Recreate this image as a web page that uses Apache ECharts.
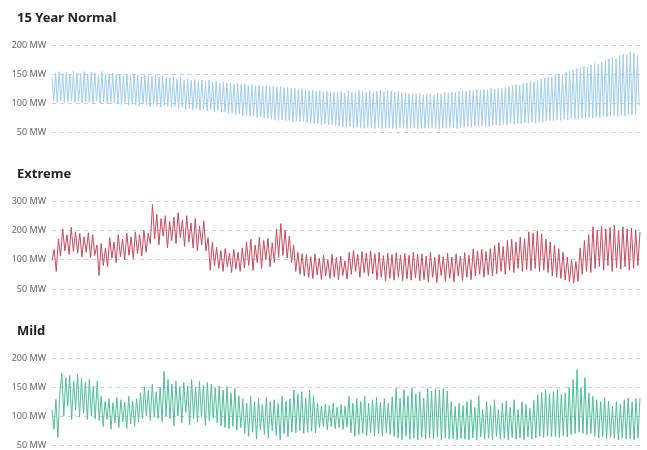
<!DOCTYPE html>
<html>
<head>
<meta charset="utf-8">
<script src="https://cdn.jsdelivr.net/npm/echarts@6/dist/echarts.min.js"></script>
<style>
html,body{margin:0;padding:0;background:#fff;}
#chart{width:647px;height:450px;}
</style>
</head>
<body>
<div id="chart"></div>
<script>
// ---- Data (MW) ----
const panelTitles = ["15 Year Normal", "Extreme", "Mild"];

const normTicks = [50, 100, 150, 200];
const extremeTicks = [50, 100, 200, 300];
const mildTicks = [50, 100, 150, 200];

const normHigh = [
  145,152,154,151,153,150,155,152,151,154,150,153,152,149,154,151,150,152,
  148,150,147,149,146,150,148,145,149,147,146,148,145,147,144,
  143,145,141,144,140,142,139,141,138,140,137,139,136,138,135,
  136,134,135,133,134,132,133,131,132,130,131,129,130,
  128,129,127,128,126,127,125,126,124,125,
  123,121,122,120,121,119,120,118,119,
  118,120,117,121,119,118,122,120,119,121,118,120,122,119,121,
  121,119,120,118,117,116,117,115,116,114,
  115,116,114,117,116,118,117,119,118,120,
  121,120,122,121,123,122,124,123,125,124,126,125,127,128,
  130,132,131,134,135,137,136,139,141,
  143,145,144,148,150,149,153,155,156,
  159,161,163,162,166,168,167,171,173,
  176,178,177,182,184,183,188,186,182
];
const normLow = [
  104,101,103,100,102,104,101,103,100,102,101,99,103,100,102,98,101,100,
  99,97,100,96,98,97,95,99,96,94,97,95,93,96,94,
  92,94,90,93,89,91,88,90,87,89,86,88,85,87,84,
  85,82,83,80,81,78,79,77,78,75,76,74,73,
  72,71,70,71,69,70,68,69,67,68,
  66,65,64,65,63,64,62,63,61,
  60,59,58,59,57,58,57,56,58,57,56,57,55,56,57,
  56,55,57,56,55,56,57,55,56,57,
  56,57,56,55,57,56,58,57,56,57,
  58,59,58,60,59,61,60,59,61,62,61,63,62,64,
  63,65,64,66,65,67,66,68,67,
  69,70,69,71,70,72,71,73,72,
  73,74,73,75,74,76,75,77,76,
  77,78,77,79,78,80,79,80,95
];
const normMid = [
  124,127,125,128,126,124,127,125,126,128,125,127,124,126,125,127,124,126,
  123,121,124,122,120,123,121,119,122,120,118,121,119,117,120,
  118,116,117,115,116,114,115,113,114,112,113,111,112,110,111,
  109,107,108,106,107,105,104,105,103,102,103,101,100,
  99,100,98,97,98,96,97,95,96,94,
  93,92,91,92,90,91,89,90,88
];

const extremeValues = [
  98,135,80,170,112,205,130,185,118,210,128,195,
  122,190,110,178,125,192,108,185,115,
  150,73,155,90,140,
  88,175,105,160,95,185,110,170,100,190,115,178,104,195,120,185,112,200,125,190,
  155,288,170,255,150,240,180,250,140,230,165,245,155,260,175,235,145,250,160,225,140,240,130,215,150,232,130,
  175,82,160,90,
  142,85,130,80,138,88,122,78,135,84,125,80,140,86,
  160,90,170,82,150,95,177,85,165,100,172,88,158,95,
  205,108,223,115,200,105,
  180,95,150,80,125,75,120,72,
  118,70,110,68,120,74,105,66,115,72,100,68,118,70,108,66,112,73,98,67,
  125,75,131,80,118,70,128,78,122,72,130,76,
  120,66,125,70,114,64,122,68,118,65,124,70,116,64,121,67,115,65,125,69,118,64,120,66,
  112,62,125,70,108,61,118,73,110,63,122,68,109,62,120,72,112,64,124,70,115,66,
  137,72,130,75,135,70,128,74,138,72,
  150,76,158,80,145,75,165,82,170,78,160,85,177,80,172,83,
  195,81,190,85,198,80,188,82,
  170,78,160,72,150,70,138,68,125,65,
  108,62,100,60,97,63,
  140,75,165,80,185,78,
  212,85,200,88,215,82,205,90,210,80,218,86,200,84,212,88,205,82,208,85,200,90,195
];

const mildValues = [
  111,77,129,63,140,
  174,100,166,117,170,94,160,110,172,98,165,105,
  158,94,163,100,151,95,160,92,
  134,82,125,94,130,77,123,88,132,80,128,90,124,78,134,86,126,82,130,90,
  140,95,150,100,145,92,155,98,142,96,150,
  90,177,100,
  163,95,155,83,160,100,151,88,158,106,152,85,163,95,150,90,160,98,153,84,158,92,155,96,148,88,152,83,
  145,80,151,78,140,82,148,76,135,80,
  130,70,122,65,134,72,125,60,130,76,120,68,132,62,125,74,128,66,122,59,134,70,126,64,130,72,
  145,71,138,75,142,70,131,72,145,74,135,71,
  122,80,117,82,120,76,118,82,122,78,115,80,120,77,117,81,
  134,71,122,65,130,68,125,70,134,66,122,71,128,65,132,69,124,66,130,71,122,68,133,65,
  148,62,131,59,145,65,135,60,148,62,138,59,142,63,131,60,
  148,62,143,60,147,64,145,59,148,62,143,60,
  125,60,117,59,122,61,118,60,125,59,
  128,62,115,59,135,64,111,60,125,62,118,59,128,65,112,60,122,61,126,59,115,63,128,60,111,62,124,59,120,64,113,60,127,62,
  137,65,140,63,145,66,138,64,142,65,145,63,137,66,140,64,
  150,68,163,70,180,72,148,70,166,68,140,70,
  134,65,128,62,125,64,132,60,126,63,
  117,61,125,59,120,62,128,60,131,61,124,59,130,62,131
];

// ---- Build series data ----
const normData = [];
for (let i = 0; i < normHigh.length; i++) {
  normData.push([i, normHigh[i]]);
  normData.push([i + 0.45, normLow[i]]);
  if (i < normMid.length) normData.push([i + 0.75, normMid[i]]);
}

// Extreme axis uses evenly spaced ticks at 50/100/200/300 (piecewise scale)
function toTickSpace(v, ticks) {
  for (let k = 0; k < ticks.length - 1; k++) {
    if (v <= ticks[k + 1] || k === ticks.length - 2) {
      return k + (v - ticks[k]) / (ticks[k + 1] - ticks[k]);
    }
  }
}
const extremeData = extremeValues.map((v, i) => [i, toTickSpace(v, extremeTicks)]);
const mildData = mildValues.map((v, i) => [i, v]);

const gridTops = [45, 201, 358];
const gridHeights = [87, 88, 87];
const titleTops = [7, 163, 320];
const colors = ["#9fcdf0", "#c94a5c", "#4fbf9a"];

const labelStyle = { color: "#666", fontSize: 9, fontFamily: "Noto Sans", margin: 6 };
const splitStyle = { show: true, lineStyle: { color: "#d0d0d0", type: [4, 4], width: 1 } };

const chart = echarts.init(document.getElementById("chart"), null, { renderer: "canvas" });
chart.setOption({
  animation: false,
  backgroundColor: "#fff",
  title: panelTitles.map((t, k) => ({
    text: t, left: 12, top: titleTops[k],
    textStyle: { fontSize: 13, fontWeight: "bold", color: "#222", fontFamily: "Noto Sans" }
  })),
  grid: gridTops.map((t, k) => ({ left: 52, right: 7, top: t, height: gridHeights[k] })),
  xAxis: [
    { gridIndex: 0, type: "value", min: 0, max: normHigh.length - 0.3, show: false },
    { gridIndex: 1, type: "value", min: 0, max: extremeValues.length - 1, show: false },
    { gridIndex: 2, type: "value", min: 0, max: mildValues.length - 1, show: false }
  ],
  yAxis: [
    { gridIndex: 0, type: "value", min: normTicks[0], max: normTicks[normTicks.length - 1], interval: 50,
      axisLine: { show: false }, axisTick: { show: false }, splitLine: splitStyle,
      axisLabel: Object.assign({ formatter: v => v + " MW" }, labelStyle) },
    { gridIndex: 1, type: "value", min: 0, max: extremeTicks.length - 1, interval: 1,
      axisLine: { show: false }, axisTick: { show: false }, splitLine: splitStyle,
      axisLabel: Object.assign({ formatter: v => extremeTicks[Math.round(v)] + " MW" }, labelStyle) },
    { gridIndex: 2, type: "value", min: mildTicks[0], max: mildTicks[mildTicks.length - 1], interval: 50,
      axisLine: { show: false }, axisTick: { show: false }, splitLine: splitStyle,
      axisLabel: Object.assign({ formatter: v => v + " MW" }, labelStyle) }
  ],
  series: [
    { type: "line", xAxisIndex: 0, yAxisIndex: 0, data: normData, symbol: "none",
      lineStyle: { color: colors[0], width: 1 }, clip: false },
    { type: "line", xAxisIndex: 1, yAxisIndex: 1, data: extremeData, symbol: "none",
      lineStyle: { color: colors[1], width: 1 }, clip: false },
    { type: "line", xAxisIndex: 2, yAxisIndex: 2, data: mildData, symbol: "none",
      lineStyle: { color: colors[2], width: 1 }, clip: false }
  ]
});
</script>
</body>
</html>
